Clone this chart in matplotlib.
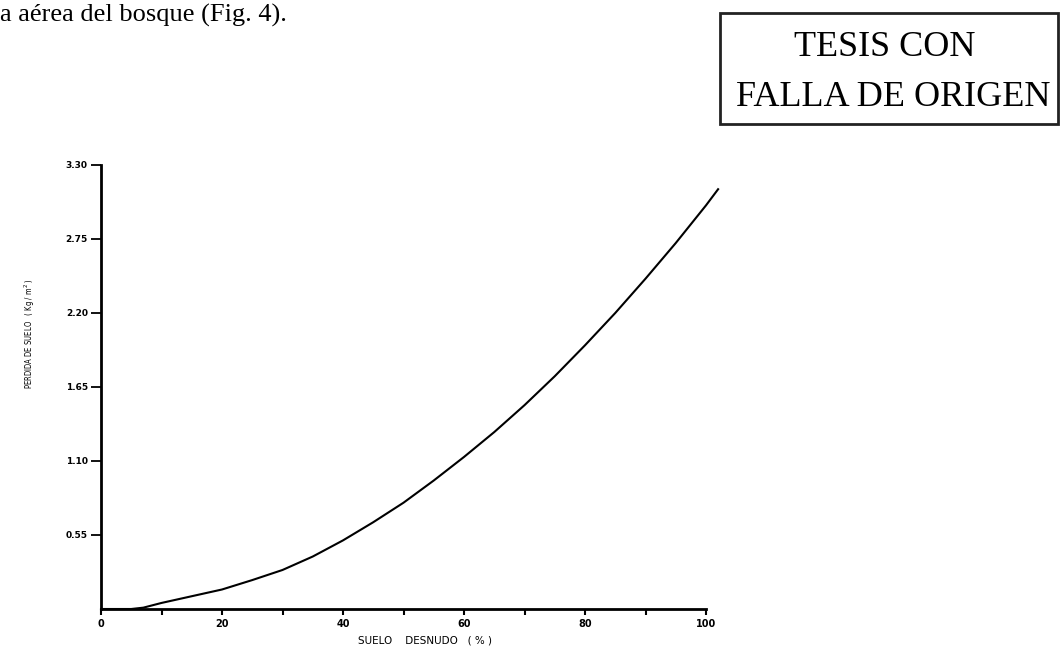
import matplotlib
matplotlib.use("Agg")
import matplotlib.pyplot as plt
from matplotlib.patches import Rectangle
from matplotlib.ticker import FixedLocator, FormatStrFormatter

# bare soil (%) vs soil loss (kg/m2)
suelo_desnudo = [0, 5, 7, 10, 12.5, 15, 17.5, 20, 25, 30, 35, 40, 45, 50,
                 55, 60, 65, 70, 75, 80, 85, 90, 95, 100, 102]
perdida = [0.0, 0.0, 0.01, 0.045, 0.07, 0.095, 0.12, 0.145, 0.215, 0.29,
           0.39, 0.51, 0.645, 0.79, 0.955, 1.13, 1.315, 1.515, 1.73, 1.96,
           2.20, 2.455, 2.72, 3.00, 3.12]

y_ticks = [0.55, 1.10, 1.65, 2.20, 2.75, 3.30]
x_ticks = [0, 20, 40, 60, 80, 100]
x_minor = [10, 30, 50, 70, 90]

W, H = 1064, 653
fig = plt.figure(figsize=(W / 100, H / 100), dpi=100)
fig.patch.set_facecolor("white")

ax = fig.add_axes([101 / W, 1 - 609 / H, 605 / W, 444 / H])
ax.plot(suelo_desnudo, perdida, color="black", lw=1.5, clip_on=False,
        solid_joinstyle="round")
ax.set_xlim(0, 100)
ax.set_ylim(0, 3.30)

for side in ("top", "right"):
    ax.spines[side].set_visible(False)
for side in ("left", "bottom"):
    ax.spines[side].set_linewidth(2)

ax.yaxis.set_major_locator(FixedLocator(y_ticks))
ax.yaxis.set_major_formatter(FormatStrFormatter("%.2f"))
ax.xaxis.set_major_locator(FixedLocator(x_ticks))
ax.xaxis.set_minor_locator(FixedLocator(x_minor))
ax.tick_params(axis="y", direction="out", length=7.5, width=1.3, pad=2,
               labelsize=6.5)
ax.tick_params(axis="x", which="both", direction="out", length=4.5, width=1.5,
               pad=3, labelsize=7)
for lab in ax.get_xticklabels() + ax.get_yticklabels():
    lab.set_fontweight("bold")

ax.set_xlabel("SUELO    DESNUDO   ( % )", fontsize=7.5)
ax.xaxis.label.set_va("center")
ax.xaxis.set_label_coords(0.535, -0.072)
ax.set_ylabel("PERDIDA DE SUELO   ( Kg / m$^2$ )", fontsize=5.5,
              fontstretch="condensed")
ax.yaxis.set_label_coords(-0.105, 0.62)

# page text above the figure
fig.text(0, 1 - 15 / H, "a aérea del bosque (Fig. 4).", family="Liberation Serif",
         fontsize=19, va="center", ha="left")

# stamp box
fig.patches.append(Rectangle((720 / W, 1 - 124 / H), 338 / W, 111 / H,
                             transform=fig.transFigure, fill=False,
                             edgecolor="#222222", lw=2))
fig.text(885 / W, 1 - 48 / H, "TESIS CON", family="Liberation Serif",
         fontsize=26, ha="center", va="center")
fig.text(893 / W, 1 - 98 / H, "FALLA DE ORIGEN", family="Liberation Serif",
         fontsize=26, ha="center", va="center")

fig.savefig("out.png", dpi=100, facecolor="white")
